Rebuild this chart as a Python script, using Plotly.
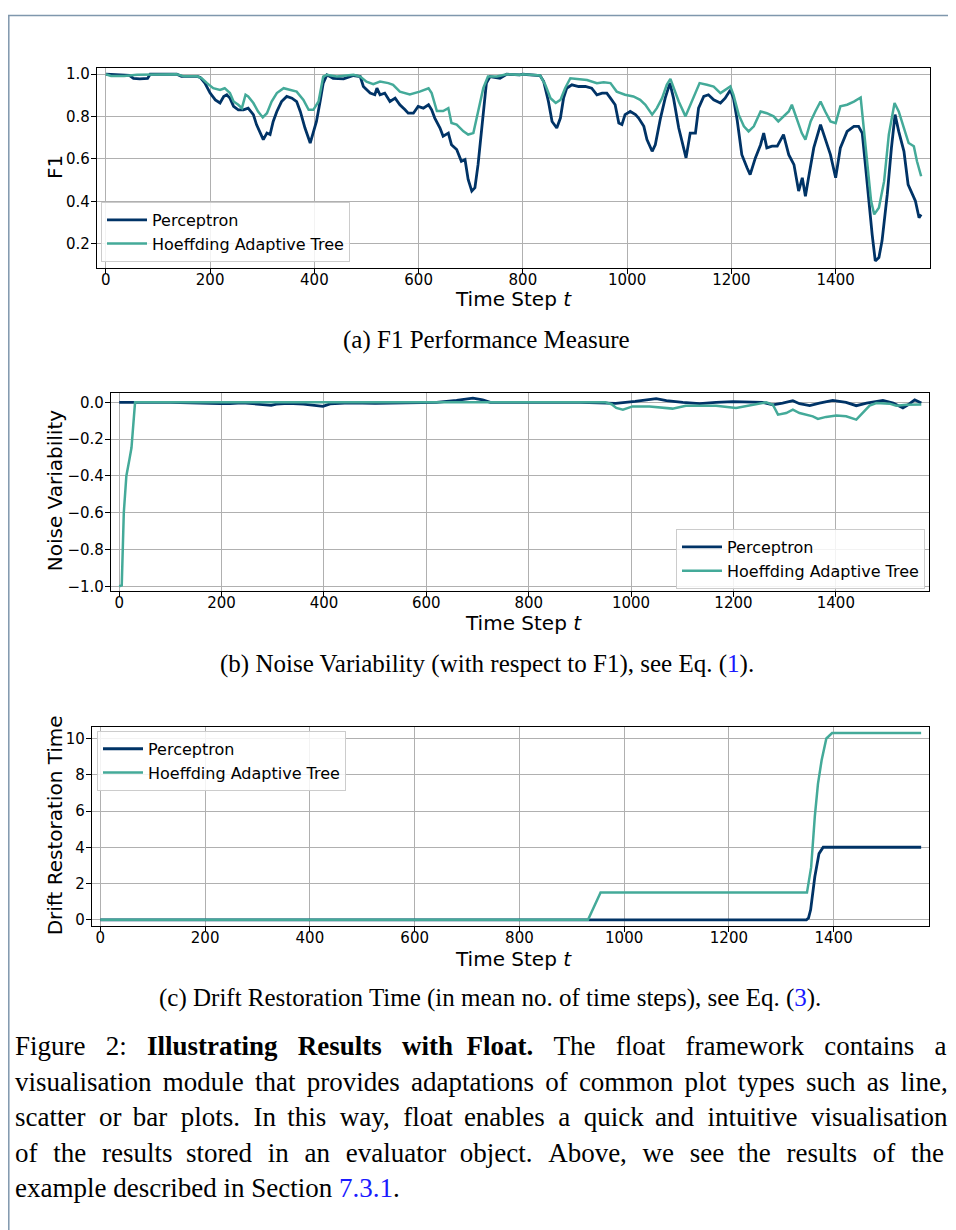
import plotly.graph_objects as go

W, H = 956, 1230
OFF = 8  # browser body margin
NAVY = "#003366"
TEAL = "#44AA99"

# ---------------- data ----------------
series_names = ["Perceptron", "Hoeffding Adaptive Tree"]

# (a) F1
f1_perc_t = [0, 20, 45, 53, 65, 80, 85, 136, 145, 175, 181, 190, 200, 210, 219, 226, 232, 238, 245, 254,
             264, 273, 283, 289, 296, 302, 309, 315, 321, 328, 337, 347, 357, 366, 373, 382, 392, 398, 404, 411,
             417, 424, 436, 456, 475, 488, 494, 507, 516, 520, 526, 535, 545, 555, 564, 574, 580, 590, 599, 609,
             619, 625, 631, 641, 647, 657, 663, 673, 682, 689, 695, 702, 708, 714, 721, 730, 737, 756, 769, 794,
             800, 833, 840, 849, 856, 865, 872, 878, 884, 894, 907, 920, 932, 942, 952, 961, 968, 977, 984, 990,
             996, 1006, 1016, 1022, 1032, 1038, 1048, 1054, 1064, 1073, 1082, 1089, 1099, 1105, 1113, 1121, 1131,
             1137, 1147, 1156, 1166, 1179, 1188, 1198, 1204, 1211, 1220, 1230, 1236, 1246, 1256, 1262, 1268, 1278,
             1288, 1300, 1310, 1320, 1329, 1336, 1342, 1348, 1358, 1371, 1380, 1390, 1400, 1409, 1422, 1435, 1444,
             1451, 1457, 1464, 1470, 1476, 1483, 1489, 1499, 1507, 1514, 1521, 1531, 1539, 1547, 1553, 1560, 1564]
f1_perc_v = [1.0, 0.997, 0.995, 0.98, 0.978, 0.98, 1.0, 1.0, 0.99, 0.99, 0.985, 0.958, 0.911, 0.879, 0.864, 0.895,
             0.903, 0.887, 0.848, 0.832, 0.832, 0.84, 0.809, 0.762, 0.722, 0.691, 0.722, 0.715, 0.777, 0.824, 0.871,
             0.895, 0.887, 0.871, 0.824, 0.746, 0.675, 0.722, 0.777, 0.871, 0.958, 0.997, 0.981, 0.978, 0.994, 0.989,
             0.942, 0.911, 0.903, 0.934, 0.903, 0.911, 0.871, 0.887, 0.856, 0.832, 0.816, 0.816, 0.848, 0.84, 0.856,
             0.832, 0.793, 0.746, 0.707, 0.722, 0.667, 0.644, 0.589, 0.597, 0.503, 0.448, 0.464, 0.573, 0.746, 0.958,
             0.989, 0.981, 1.0, 0.997,
             1.0, 0.994, 0.965, 0.871, 0.777, 0.746, 0.793, 0.887, 0.934, 0.95, 0.942, 0.942, 0.934, 0.903, 0.911,
             0.911, 0.887, 0.856, 0.769, 0.762, 0.809, 0.824, 0.809, 0.793, 0.754, 0.691, 0.636, 0.667, 0.793, 0.887,
             0.958, 0.887, 0.746, 0.683, 0.605, 0.722, 0.722, 0.84, 0.895, 0.903, 0.879, 0.864, 0.887, 0.926, 0.887,
             0.785, 0.62, 0.558, 0.526, 0.605, 0.667, 0.722, 0.652, 0.66, 0.66, 0.715, 0.62, 0.573, 0.448, 0.511,
             0.424, 0.511, 0.652, 0.762, 0.699, 0.62, 0.511, 0.652, 0.73, 0.754, 0.754, 0.722, 0.573, 0.385, 0.244,
             0.118, 0.134, 0.213, 0.432, 0.652, 0.809, 0.73, 0.636, 0.479, 0.432, 0.401, 0.322, 0.338]

f1_hat_t = [0, 10, 35, 60, 136, 150, 175, 184, 194, 206, 219, 228, 238, 245, 254, 261, 268, 273, 283, 292, 301,
            309, 318, 328, 341, 353, 366, 379, 389, 398, 408, 417, 424, 443, 475, 488, 500, 513, 526, 542, 551, 564,
            583, 602, 619, 625, 635, 647, 657, 663, 673, 686, 695, 705, 714, 724, 733, 750, 769, 794,
            800, 833, 843, 853, 863, 872, 881, 891, 904, 923, 942, 955, 968, 980, 996, 1012, 1025, 1035, 1048,
            1057, 1067, 1076, 1083, 1089, 1099, 1112, 1121, 1131, 1139, 1153, 1166, 1179, 1188, 1198, 1204, 1214,
            1224, 1233, 1243, 1256, 1268, 1281, 1290, 1300, 1310, 1316, 1326, 1335, 1342, 1352, 1361, 1371, 1380,
            1390, 1400, 1409, 1422, 1435, 1448, 1454, 1461, 1468, 1474, 1483, 1493, 1502, 1513, 1521, 1531, 1540,
            1550, 1556, 1564]
f1_hat_v = [1.0, 0.992, 0.992, 0.997, 1.0, 0.99, 0.99, 0.981, 0.958, 0.934, 0.926, 0.934, 0.911, 0.871, 0.856,
            0.84, 0.903, 0.895, 0.864, 0.824, 0.796, 0.816, 0.871, 0.911, 0.934, 0.926, 0.918, 0.879, 0.832, 0.832,
            0.871, 0.989, 0.997, 0.989, 0.997, 0.989, 0.965, 0.953, 0.965, 0.958, 0.95, 0.918, 0.905, 0.918, 0.934,
            0.911, 0.826, 0.826, 0.84, 0.77, 0.762, 0.73, 0.715, 0.722, 0.826, 0.934, 0.989, 0.989, 1.0, 0.997,
            1.0, 0.994, 0.95, 0.887, 0.864, 0.879, 0.934, 0.981, 0.978, 0.973, 0.958, 0.962, 0.958, 0.918, 0.903,
            0.895, 0.879, 0.856, 0.809, 0.84, 0.887, 0.95, 0.978, 0.934, 0.871, 0.801, 0.856, 0.918, 0.958, 0.95,
            0.942, 0.911, 0.926, 0.942, 0.903, 0.809, 0.754, 0.73, 0.754, 0.824, 0.816, 0.801, 0.777, 0.801, 0.824,
            0.856, 0.785, 0.722, 0.691, 0.777, 0.824, 0.871, 0.824, 0.777, 0.769, 0.848, 0.856, 0.871, 0.89, 0.746,
            0.558, 0.401, 0.338, 0.369, 0.495, 0.715, 0.864, 0.824, 0.746, 0.675, 0.66, 0.589, 0.518]

# (b) Noise variability
nv_perc_t = [0, 27, 100, 197, 216, 240, 268, 297, 307, 330, 360, 398, 412, 450, 500, 560, 620, 659, 691, 710,
             725, 760, 800, 900, 970, 1008, 1049, 1069, 1101, 1134, 1166, 1199, 1257, 1277, 1296, 1316, 1329,
             1349, 1368, 1394, 1420, 1440, 1460, 1492, 1512, 1531, 1541, 1554, 1567]
nv_perc_v = [0.0, 0.0, 0.0, -0.007, -0.007, -0.002, -0.01, -0.016, -0.01, -0.005, -0.01, -0.022, -0.008, -0.003,
             -0.005, -0.003, 0.0, 0.011, 0.023, 0.014, 0.0, 0.0, 0.0, 0.0, -0.005, 0.005, 0.02, 0.009, 0.0, -0.007,
             0.0, 0.004, 0.0, -0.013, -0.004, 0.009, -0.007, -0.018, -0.004, 0.011, 0.0, -0.018, -0.004, 0.011,
             -0.004, -0.03, -0.013, 0.014, -0.004]
nv_hat_t = [0, 5, 9, 14, 20, 24, 31, 200, 400, 600, 800, 950, 962, 971, 984, 1003, 1036, 1081, 1107, 1166, 1205,
            1238, 1264, 1277, 1287, 1303, 1316, 1329, 1355, 1365, 1381, 1401, 1420, 1440, 1453, 1466, 1479, 1505,
            1518, 1538, 1567]
nv_hat_v = [-1.0, -0.995, -0.6, -0.4, -0.31, -0.247, 0.0, 0.0, 0.0, 0.0, 0.0, 0.0, -0.01, -0.03, -0.04, -0.022,
            -0.022, -0.034, -0.018, -0.018, -0.03, -0.013, 0.0, -0.013, -0.067, -0.058, -0.04, -0.058, -0.076,
            -0.09, -0.079, -0.072, -0.076, -0.094, -0.058, -0.018, -0.004, -0.007, -0.018, -0.013, -0.011]

# (c) Drift restoration time
dr_perc_t = [0, 1348, 1352, 1356, 1364, 1372, 1380, 1567]
dr_perc_v = [0.0, 0.0, 0.1, 0.55, 2.37, 3.65, 4.0, 4.0]
dr_hat_t = [0, 931, 955, 1349, 1357, 1364, 1370, 1377, 1386, 1397, 1567]
dr_hat_v = [0.0, 0.0, 1.5, 1.5, 2.9, 5.7, 7.5, 8.8, 10.0, 10.3, 10.3]

x_ticks = [0, 200, 400, 600, 800, 1000, 1200, 1400]
f1_ticks = [0.2, 0.4, 0.6, 0.8, 1.0]
nv_ticks = [-1.0, -0.8, -0.6, -0.4, -0.2, 0.0]
dr_ticks = [0, 2, 4, 6, 8, 10]


def px(x):
    return (x - OFF) / W


def py(y):
    return 1 - (y - OFF) / H


fig = go.Figure()

panels = [
    ("x", "y", "legend", f1_perc_t, f1_perc_v, f1_hat_t, f1_hat_v),
    ("x2", "y2", "legend2", nv_perc_t, nv_perc_v, nv_hat_t, nv_hat_v),
    ("x3", "y3", "legend3", dr_perc_t, dr_perc_v, dr_hat_t, dr_hat_v),
]
for xa, ya, lg, pt, pv, ht, hv in panels:
    fig.add_trace(go.Scatter(x=pt, y=pv, mode="lines", name=series_names[0], xaxis=xa, yaxis=ya,
                             legend=lg, line=dict(color=NAVY, width=2.8)))
    fig.add_trace(go.Scatter(x=ht, y=hv, mode="lines", name=series_names[1], xaxis=xa, yaxis=ya,
                             legend=lg, line=dict(color=TEAL, width=2.5)))

axis_common = dict(showline=True, linecolor="black", linewidth=1.2, mirror=True, ticks="outside",
                   ticklen=5, tickwidth=1, tickcolor="black", showgrid=True, gridcolor="#b0b0b0",
                   gridwidth=1, zeroline=False, tickfont=dict(family="DejaVu Sans", size=15, color="black"))
xaxis_extra = dict(ticklabelstandoff=-7)
yaxis_extra = dict(ticklabelstandoff=-2)


def fmt(v, nd):
    s = f"{v:.{nd}f}"
    return s.replace("-", "\u2212")


fig.update_layout(
    width=W, height=H, margin=dict(l=0, r=0, t=0, b=0),
    paper_bgcolor="white", plot_bgcolor="white", showlegend=True,
    xaxis=dict(domain=[px(97), px(930)], range=[-17, 1581], anchor="y", tickvals=x_ticks,
               **axis_common, **xaxis_extra),
    yaxis=dict(domain=[py(267), py(66)], range=[0.087, 1.031], anchor="x", tickvals=f1_ticks,
               ticktext=[fmt(v, 1) for v in f1_ticks], **axis_common, **yaxis_extra),
    xaxis2=dict(domain=[px(111), px(929)], range=[-16, 1582], anchor="y2", tickvals=x_ticks,
                **axis_common, **xaxis_extra),
    yaxis2=dict(domain=[py(592), py(393)], range=[-1.024, 0.052], anchor="x2", tickvals=nv_ticks,
                ticktext=[fmt(v, 1) for v in nv_ticks], **axis_common, **yaxis_extra),
    xaxis3=dict(domain=[px(92), px(929)], range=[-16, 1582], anchor="y3", tickvals=x_ticks,
                **axis_common, **xaxis_extra),
    yaxis3=dict(domain=[py(929), py(729)], range=[-0.33, 10.64], anchor="x3", tickvals=dr_ticks,
                **axis_common, **yaxis_extra),
)

legend_common = dict(bgcolor="rgba(255,255,255,0.85)", bordercolor="#cccccc", borderwidth=1,
                     font=dict(family="DejaVu Sans", size=16, color="black"), xanchor="left", yanchor="top",
                     tracegroupgap=0, itemwidth=40)
fig.update_layout(
    legend=dict(x=px(101), y=py(201), **legend_common),
    legend2=dict(x=px(676), y=py(530), **legend_common),
    legend3=dict(x=px(97), y=py(733), **legend_common),
)

ann = []
sans = dict(family="DejaVu Sans", size=20, color="black")
serif = "Liberation Serif"


def add_text(x, y, text, font, xanchor="center", angle=0):
    ann.append(dict(x=px(x), y=py(y), xref="paper", yref="paper", text=text, showarrow=False,
                    xanchor=xanchor, yanchor="middle", textangle=angle, font=font))


add_text(55, 166, "F1", sans, angle=-90)
add_text(55, 492, "Noise Variability", sans, angle=-90)
add_text(55, 828, "Drift Restoration Time", sans, angle=-90)
add_text(513, 299, "Time Step <i>t</i>", sans)
add_text(523, 625, "Time Step <i>t</i>", sans)
add_text(513, 962, "Time Step <i>t</i>", sans)

cap = dict(family=serif, size=25, color="black")
BLUE = "#1a1aff"
add_text(486, 340, "(a) F1 Performance Measure", cap)
add_text(487, 666, f"(b) Noise Variability (with respect to F1), see Eq. (<span style='color:{BLUE}'>1</span>).", cap)
add_text(490, 1002, f"(c) Drift Restoration Time (in mean no. of time steps), see Eq. (<span style='color:{BLUE}'>3</span>).", cap)

body = dict(family=serif, size=27, color="black")
EN, THREE, FOUR, SIX = "\u2002", "\u2004", "\u2005", "\u2006"
# justified paragraph: extra unicode spacer appended to each inter-word gap
body_lines = [
    ("Figure 2: <b>Illustrating Results with Float.</b> The float framework contains a",
     [EN, EN, EN, EN, FOUR, EN, EN, EN, EN, EN]),
    ("visualisation module that provides adaptations of common plot types such as line,",
     [SIX] * 11),
    ("scatter or bar plots. In this way, float enables a quick and intuitive visualisation",
     [FOUR, SIX, FOUR, FOUR, SIX, FOUR, FOUR, SIX, FOUR, FOUR, SIX, FOUR, FOUR]),
    ("of the results stored in an evaluator object. Above, we see the results of the",
     [THREE, THREE, FOUR, THREE, THREE, THREE, FOUR, THREE, THREE, THREE, FOUR, THREE, THREE, THREE]),
    (f"example described in Section <span style='color:{BLUE}'>7.3.1</span>.", []),
]


def justify(text, spacers):
    if not spacers:
        return text
    text = text.replace("<span style", "<span\u0000style")
    parts = text.split(" ")
    out = parts[0]
    for k, p in enumerate(parts[1:]):
        out += " " + spacers[k % len(spacers)] + p
    return out.replace("\u0000", " ")


for i, (line, sp) in enumerate(body_lines):
    add_text(13, 1050 + i * 35.8, justify(line, sp), body, xanchor="left")

fig.update_layout(annotations=ann)

border = "#7f97ad"
fig.update_layout(shapes=[
    dict(type="line", xref="paper", yref="paper", x0=0, x1=1, y0=py(13.5), y1=py(13.5),
         line=dict(color=border, width=1.5)),
    dict(type="line", xref="paper", yref="paper", x0=0.8 / W, x1=0.8 / W, y0=py(13.5), y1=0,
         line=dict(color=border, width=1.5)),
])

fig.write_html("out.html")
